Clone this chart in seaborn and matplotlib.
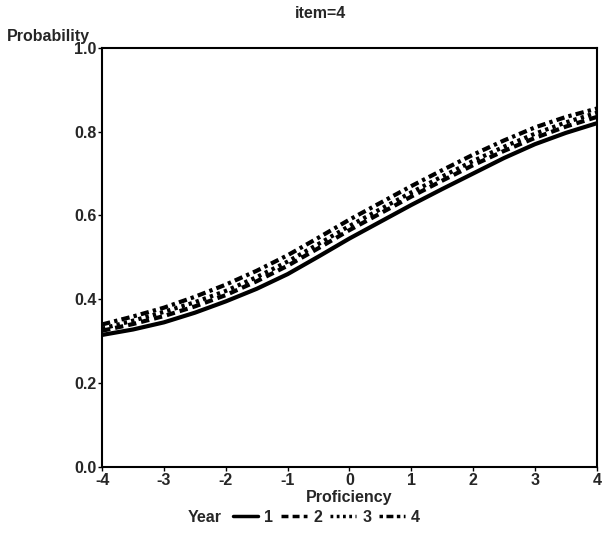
import numpy as np
import pandas as pd
import matplotlib
matplotlib.use("Agg")
import matplotlib.pyplot as plt
import seaborn as sns
from matplotlib.lines import Line2D

proficiency = [-4, -3.5, -3, -2.5, -2, -1.5, -1, -0.5, 0, 0.5, 1, 1.5, 2, 2.5, 3, 3.5, 4]
year1 = [0.315, 0.328, 0.345, 0.368, 0.395, 0.425, 0.460, 0.502, 0.545,
         0.585, 0.625, 0.663, 0.700, 0.737, 0.770, 0.797, 0.820]
year2 = [0.325, 0.341, 0.360, 0.383, 0.410, 0.443, 0.480, 0.522, 0.565,
         0.605, 0.645, 0.683, 0.720, 0.754, 0.785, 0.812, 0.835]
year3 = [0.330, 0.349, 0.370, 0.393, 0.420, 0.453, 0.490, 0.532, 0.575,
         0.615, 0.655, 0.693, 0.730, 0.764, 0.795, 0.822, 0.845]
year4 = [0.340, 0.359, 0.380, 0.406, 0.435, 0.468, 0.505, 0.547, 0.590,
         0.630, 0.670, 0.708, 0.745, 0.779, 0.810, 0.835, 0.855]
years = ["1", "2", "3", "4"]
x_ticks = [-4, -3, -2, -1, 0, 1, 2, 3, 4]
y_ticks = [0.0, 0.2, 0.4, 0.6, 0.8, 1.0]

rows = []
for yr, vals in zip(years, [year1, year2, year3, year4]):
    for p, v in zip(proficiency, vals):
        rows.append({"Proficiency": p, "Probability": v, "Year": yr})
df = pd.DataFrame(rows)

sns.set_theme(style="white")
plt.rcParams['font.family'] = ['Liberation Sans', 'DejaVu Sans']
plt.rcParams['font.weight'] = 'bold'

fig = plt.figure(figsize=(6.04, 5.34), dpi=100)
ax = fig.add_axes([0.169, 0.1255, 0.819, 0.785])

dashes = {"1": "", "2": (2.0, 1.2), "3": (0.8, 1.0), "4": (2.0, 1.0, 0.8, 1.0)}
sns.lineplot(data=df, x="Proficiency", y="Probability", hue="Year", style="Year",
             palette={y: "black" for y in years}, dashes=dashes, linewidth=3,
             ax=ax, legend=False)

ax.set_xlim(-4, 4)
ax.set_ylim(0, 1.0)
ax.set_xticks(x_ticks)
ax.set_xticklabels([str(t) for t in x_ticks], fontsize=11.5, fontweight='bold')
ax.set_yticks(y_ticks)
ax.set_yticklabels([f"{t:.1f}" for t in y_ticks], fontsize=11.5, fontweight='bold')
ax.tick_params(axis='both', direction='out', length=3, width=1, color='black', pad=1,
               bottom=True, left=True)
for s in ax.spines.values():
    s.set_color('black')
    s.set_linewidth(1.5)
ax.set_xlabel("Proficiency", fontsize=11.5, fontweight='bold', labelpad=2)
ax.set_ylabel("")
fig.text(0.012, 0.918, "Probability", fontsize=11.5, fontweight='bold', ha='left', va='bottom')
fig.text(0.53, 0.975, "item=4", fontsize=11.5, fontweight='bold', ha='center', va='center')

handles = [Line2D([], [], color='black', lw=2.5, linestyle='-'),
           Line2D([], [], color='black', lw=2.5, dashes=(2.0, 1.2)),
           Line2D([], [], color='black', lw=2.5, dashes=(0.8, 1.0)),
           Line2D([], [], color='black', lw=2.5, dashes=(1.0, 1.0, 2.0, 1.0))]
fig.text(0.31, 0.031, "Year", fontsize=11.5, fontweight='bold', ha='left', va='center')
fig.legend(handles, years, loc='center left', bbox_to_anchor=(0.385, 0.031),
           ncol=4, frameon=False, handlelength=1.6, handletextpad=0.4,
           columnspacing=0.5, borderaxespad=0, borderpad=0,
           prop={'size': 11.5, 'weight': 'bold'})

fig.savefig("out.png", dpi=100)
